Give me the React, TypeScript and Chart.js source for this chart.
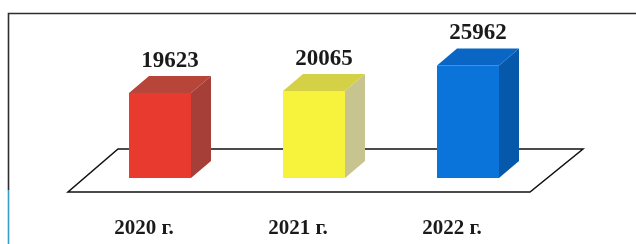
import { useEffect, useRef } from "react";
import { Chart, registerables } from "chart.js";

Chart.register(...registerables);

const categories = ["2020 г.", "2021 г.", "2022 г."];
const values = [19623, 20065, 25962];
const frontColors = ["#E83A2E", "#F7F23C", "#0B74DA"];
const sideColors = ["#A53F38", "#C8C48F", "#0659AA"];
const topColors = ["#B84539", "#D5D146", "#0A66C4"];

const DX = 20;
const DY = -17;

const threeD = {
  id: "threeD",
  beforeDraw(chart: any) {
    const ctx = chart.ctx;
    ctx.save();
    ctx.fillStyle = "#ffffff";
    ctx.fillRect(0, 0, chart.width, chart.height);
    // frame
    ctx.strokeStyle = "#2e2e2e";
    ctx.lineWidth = 1.6;
    ctx.beginPath();
    ctx.moveTo(chart.width, 13.5);
    ctx.lineTo(8.5, 13.5);
    ctx.lineTo(8.5, 190);
    ctx.stroke();
    ctx.strokeStyle = "#3b9cc4";
    ctx.beginPath();
    ctx.moveTo(8.5, 190);
    ctx.lineTo(8.5, chart.height);
    ctx.stroke();
    ctx.restore();
  },
  beforeDatasetsDraw(chart: any) {
    const ctx = chart.ctx;
    const a = chart.chartArea;
    ctx.save();
    ctx.strokeStyle = "#111111";
    ctx.lineWidth = 1.5;
    ctx.beginPath();
    ctx.moveTo(a.left + 35, a.bottom - 29);
    ctx.lineTo(a.right + 38, a.bottom - 29);
    ctx.lineTo(a.right - 15, a.bottom + 14);
    ctx.lineTo(a.left - 15, a.bottom + 14);
    ctx.closePath();
    ctx.stroke();
    ctx.restore();
  },
  afterDatasetsDraw(chart: any) {
    const ctx = chart.ctx;
    const meta = chart.getDatasetMeta(0);
    ctx.save();
    meta.data.forEach((el: any, i: number) => {
      const { x, y, base, width } = el.getProps(["x", "y", "base", "width"], true);
      const l = x - width / 2;
      const r = x + width / 2;
      // side
      ctx.fillStyle = sideColors[i];
      ctx.beginPath();
      ctx.moveTo(r, y);
      ctx.lineTo(r + DX, y + DY);
      ctx.lineTo(r + DX, base + DY);
      ctx.lineTo(r, base);
      ctx.closePath();
      ctx.fill();
      // top
      ctx.fillStyle = topColors[i];
      ctx.beginPath();
      ctx.moveTo(l, y);
      ctx.lineTo(l + DX, y + DY);
      ctx.lineTo(r + DX, y + DY);
      ctx.lineTo(r, y);
      ctx.closePath();
      ctx.fill();
      // value label
      ctx.fillStyle = "#1a1a1a";
      ctx.font = "bold 23px 'Liberation Serif'";
      ctx.textAlign = "center";
      ctx.textBaseline = "middle";
      ctx.fillText(String(values[i]), x + 10, y + DY - 15);
      // category label
      ctx.font = "bold 21px 'Liberation Serif'";
      ctx.fillText(categories[i], x - 16, 229);
    });
    ctx.restore();
  },
};

export default function App() {
  const ref = useRef<HTMLCanvasElement | null>(null);
  useEffect(() => {
    if (!ref.current) return;
    const chart = new Chart(ref.current, {
      type: "bar",
      data: {
        labels: categories,
        datasets: [
          {
            data: values,
            backgroundColor: frontColors,
            borderWidth: 0,
            barPercentage: 1,
            categoryPercentage: 62 / 154,
          },
        ],
      },
      options: {
        responsive: false,
        animation: false,
        devicePixelRatio: 1,
        layout: { padding: { left: 83, right: 91, top: 48, bottom: 66 } },
        plugins: { legend: { display: false }, tooltip: { enabled: false } },
        scales: {
          x: { display: false },
          y: { display: false, min: 0, max: 30000 },
        },
      },
      plugins: [threeD],
    });
    return () => chart.destroy();
  }, []);
  return (
    <div style={{ position: "absolute", left: 0, top: 0, width: 636, height: 244, background: "#fff" }}>
      <canvas ref={ref} width={636} height={244} />
    </div>
  );
}
